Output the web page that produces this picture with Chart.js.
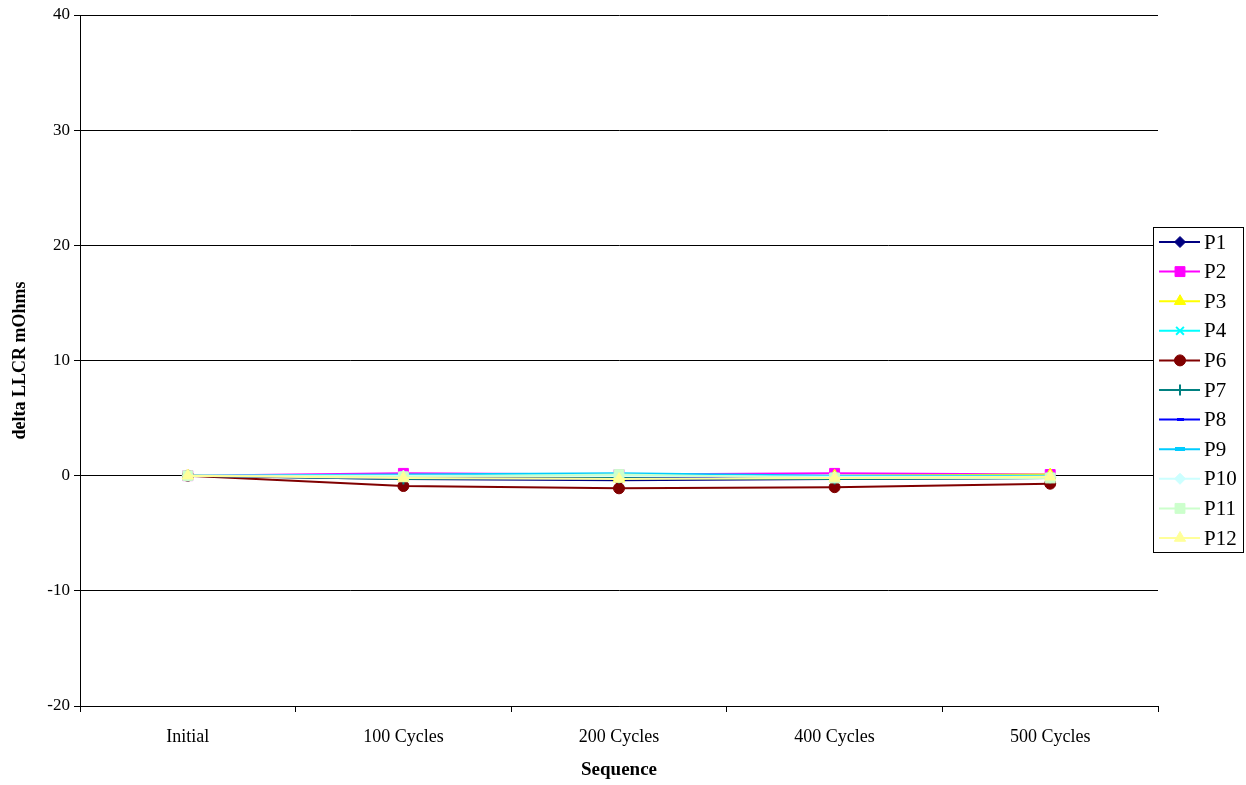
<!DOCTYPE html>
<html>
<head>
<meta charset="utf-8">
<title>delta LLCR mOhms by Sequence</title>
<script src="https://cdn.jsdelivr.net/npm/chart.js@4.4.1/dist/chart.umd.min.js"></script>
<style>
  html, body { margin: 0; padding: 0; background: #ffffff; }
  #wrap { width: 1246px; height: 785px; position: relative; }
</style>
</head>
<body>
<div id="wrap"><canvas id="chart" width="1246" height="785"></canvas></div>
<script>
// Sequence steps along the x axis
const categories = ['Initial', '100 Cycles', '200 Cycles', '400 Cycles', '500 Cycles'];

// delta LLCR (mOhms) per sample position
const P1  = [0, -0.3, -0.4, -0.3, -0.2];
const P2  = [0,  0.2,  0.1,  0.2,  0.1];
const P3  = [0, -0.1, -0.2,  0.0,  0.1];
const P4  = [0,  0.0,  0.1, -0.1, -0.1];
const P6  = [0, -0.9, -1.1, -1.0, -0.7];
const P7  = [0, -0.3, -0.2, -0.3, -0.2];
const P8  = [0, -0.2, -0.3, -0.1, -0.1];
const P9  = [0,  0.1,  0.2,  0.0,  0.0];
const P10 = [0,  0.0,  0.0, -0.1, -0.1];
const P11 = [0, -0.1,  0.1, -0.2, -0.2];
const P12 = [0, -0.2, -0.3, -0.2, -0.1];

const seriesNames = ['P1', 'P2', 'P3', 'P4', 'P6', 'P7', 'P8', 'P9', 'P10', 'P11', 'P12'];
const seriesValues = [P1, P2, P3, P4, P6, P7, P8, P9, P10, P11, P12];

// y axis range
const yMin = -20, yMax = 40, yStep = 10;

const SERIF = '"Liberation Serif", "Times New Roman", serif';

// short horizontal bar used as a "dash" marker
function dashMarker(w, h, color) {
  const c = document.createElement('canvas');
  c.width = w; c.height = h;
  const g = c.getContext('2d');
  g.fillStyle = color;
  g.fillRect(0, 0, w, h);
  return c;
}

const styles = [
  { color: '#000080', point: 'rectRot',  radius: 5.5 },
  { color: '#FF00FF', point: 'rect',     radius: 7 },
  { color: '#FFFF00', point: 'triangle', radius: 6.5 },
  { color: '#00FFFF', point: 'crossRot', radius: 5.5, bw: 2 },
  { color: '#800000', point: 'circle',   radius: 5.5 },
  { color: '#008080', point: 'cross',    radius: 5.5, bw: 2 },
  { color: '#0000FF', point: dashMarker(7, 3, '#0000FF'), radius: 3 },
  { color: '#00CCFF', point: dashMarker(10, 4, '#00CCFF'), radius: 5 },
  { color: '#CCFFFF', point: 'rectRot',  radius: 5.5 },
  { color: '#CCFFCC', point: 'rect',     radius: 7 },
  { color: '#FFFF99', point: 'triangle', radius: 6.5 }
];

const datasets = seriesNames.map((name, i) => ({
  label: name,
  data: seriesValues[i],
  borderColor: styles[i].color,
  backgroundColor: styles[i].color,
  borderWidth: 2,
  pointStyle: styles[i].point,
  pointRadius: styles[i].radius,
  pointBorderWidth: styles[i].bw || 1,
  pointBackgroundColor: styles[i].color,
  pointBorderColor: styles[i].color,
  tension: 0,
  // later series are painted on top
  order: seriesNames.length - 1 - i
}));

// boxed legend on the right with line + marker samples
const boxLegend = {
  id: 'boxLegend',
  afterDraw(chart) {
    const ctx = chart.ctx;
    const x0 = 1153.5, y0 = 227.5, w = 90, h = 325;
    ctx.save();
    ctx.fillStyle = '#ffffff';
    ctx.fillRect(x0, y0, w, h);
    ctx.strokeStyle = '#000000';
    ctx.lineWidth = 1;
    ctx.strokeRect(x0, y0, w, h);
    const rowH = 29.6, firstY = 242;
    chart.data.datasets.forEach((ds, i) => {
      const y = firstY + i * rowH;
      ctx.strokeStyle = ds.borderColor;
      ctx.lineWidth = 2;
      ctx.beginPath();
      ctx.moveTo(1159, y);
      ctx.lineTo(1200, y);
      ctx.stroke();
      ctx.fillStyle = ds.pointBackgroundColor;
      ctx.strokeStyle = ds.pointBorderColor;
      ctx.lineWidth = ds.pointBorderWidth;
      Chart.helpers.drawPoint(ctx, {
        pointStyle: ds.pointStyle,
        radius: ds.pointRadius,
        rotation: 0,
        borderWidth: ds.pointBorderWidth
      }, 1180, y);
      ctx.fillStyle = '#000000';
      ctx.font = '21px ' + SERIF;
      ctx.textAlign = 'left';
      ctx.textBaseline = 'middle';
      ctx.fillText(ds.label, 1204, y + 1);
    });
    ctx.restore();
  }
};

new Chart(document.getElementById('chart'), {
  type: 'line',
  data: { labels: categories, datasets },
  plugins: [boxLegend],
  options: {
    responsive: false,
    animation: false,
    devicePixelRatio: 1,
    layout: { padding: { top: 15, right: 88, left: 0, bottom: 0 } },
    plugins: {
      legend: { display: false },
      tooltip: { enabled: false },
      title: { display: false }
    },
    scales: {
      x: {
        offset: true,
        afterFit(scale) { scale.height = 79; },
        grid: {
          offset: true,
          drawOnChartArea: false,
          drawTicks: true,
          tickLength: 6,
          color: '#000000',
          lineWidth: 1
        },
        border: { display: true, color: '#000000', width: 1 },
        ticks: {
          color: '#000000',
          padding: 14,
          maxRotation: 0,
          autoSkip: false,
          font: { family: SERIF, size: 18 }
        },
        title: {
          display: true,
          text: 'Sequence',
          color: '#000000',
          padding: { top: 4, bottom: 4 },
          font: { family: SERIF, size: 19, weight: 'bold' }
        }
      },
      y: {
        min: yMin,
        max: yMax,
        afterFit(scale) { scale.width = 80; },
        grid: {
          color: '#000000',
          lineWidth: 1,
          tickLength: 6
        },
        border: { display: true, color: '#000000', width: 1 },
        ticks: {
          stepSize: yStep,
          color: '#000000',
          padding: 4,
          font: { family: SERIF, size: 17 }
        },
        title: {
          display: true,
          text: 'delta LLCR mOhms',
          color: '#000000',
          padding: { top: 10, bottom: 4 },
          font: { family: SERIF, size: 18, weight: 'bold' }
        }
      }
    }
  }
});
</script>
</body>
</html>
